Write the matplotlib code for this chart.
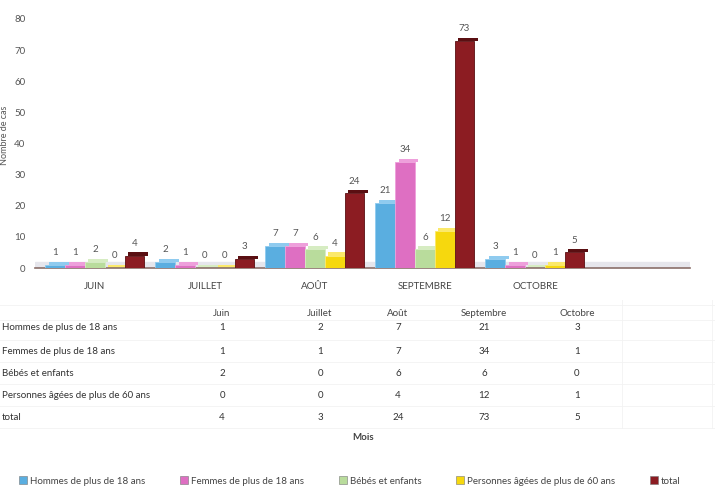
import numpy as np
import matplotlib.pyplot as plt
from matplotlib.patches import Patch

plt.rcParams['font.family'] = ['Lato', 'DejaVu Sans']

months = ["Juin", "Juillet", "Août", "Septembre", "Octobre"]
month_caps = ["JUIN", "JUILLET", "AOÛT", "SEPTEMBRE", "OCTOBRE"]
series = ["Hommes de plus de 18 ans", "Femmes de plus de 18 ans",
          "Bébés et enfants", "Personnes âgées de plus de 60 ans", "total"]
hommes = [1, 2, 7, 21, 3]
femmes = [1, 1, 7, 34, 1]
bebes = [2, 0, 6, 6, 0]
agees = [0, 0, 4, 12, 1]
total = [4, 3, 24, 73, 5]
values = [hommes, femmes, bebes, agees, total]

colors = ["#5aaee0", "#de6fc2", "#b9dc9c", "#f6d80e", "#8c1c22"]
tops = ["#8fcbef", "#ee9fdb", "#d6ecc2", "#fbe96a", "#5a0f12"]

W, H = 715, 495
fig = plt.figure(figsize=(W / 100, H / 100), dpi=100)
fig.patch.set_facecolor("white")


def fx(px):
    return px / W


def fy(py):
    return 1 - py / H


# chart area (pixels 35..690 horizontally, 19..268 vertically)
ax = fig.add_axes([fx(35), fy(268), fx(690 - 35), (268 - 19) / H])
x = np.arange(len(months))
bw = 0.18
for k, (vals, c, tc) in enumerate(zip(values, colors, tops)):
    pos = x + (k - 2) * bw
    ax.bar(pos, vals, width=bw, color=c, edgecolor=tc, linewidth=0.6, zorder=3)
    ax.bar(pos + 0.03, [1.0] * len(vals), bottom=vals, width=bw, color=tc,
           linewidth=0, zorder=2)
    for p, v in zip(pos, vals):
        ax.text(p, v + 2.5, str(v), ha="center", va="bottom", fontsize=7,
                color="#555555")

ax.set_xlim(-0.545, 5.41)
ax.set_ylim(0, 80)
ax.set_yticks(range(0, 81, 10))
ax.tick_params(axis="y", length=0, labelsize=7, labelcolor="#555555", pad=7)
ax.set_xticks(x)
ax.set_xticklabels(month_caps, fontsize=7, color="#444444")
ax.tick_params(axis="x", length=0, pad=10)
for s in ["top", "right", "left"]:
    ax.spines[s].set_visible(False)
ax.spines["bottom"].set_color("#8a6f6a")
ax.spines["bottom"].set_linewidth(1.2)
ax.axhspan(0, 1.8, color="#e6e6ec", zorder=1)
fig.text(fx(5), fy(135), "Nombre de cas", rotation=90, ha="center",
         va="center", fontsize=6.5, color="#555555")

# data table
col_x = [222, 320, 398, 484, 577]
row_y = [328, 351, 373, 395, 417]
for cx, m in zip(col_x, months):
    fig.text(fx(cx), fy(313), m, ha="center", va="center", fontsize=7,
             color="#444444")
for ry, name, vals in zip(row_y, series, values):
    fig.text(fx(2), fy(ry), name, ha="left", va="center", fontsize=7,
             color="#333333")
    for cx, v in zip(col_x, vals):
        fig.text(fx(cx), fy(ry), str(v), ha="center", va="center",
                 fontsize=7, color="#333333")
for ly in [305, 320, 340, 362, 384, 406, 428]:
    fig.add_artist(plt.Line2D([fx(0), fx(715)], [fy(ly), fy(ly)],
                              color="#f2f2f2", linewidth=0.6))
for lx in [622, 712]:
    fig.add_artist(plt.Line2D([fx(lx), fx(lx)], [fy(300), fy(428)],
                              color="#f2f2f2", linewidth=0.6))
fig.text(fx(363), fy(438), "Mois", ha="center", va="center", fontsize=7,
         fontweight="bold", color="#444444")

handles = [Patch(facecolor=c, edgecolor="#777777", linewidth=0.4) for c in colors]
fig.legend(handles, series, loc="center", bbox_to_anchor=(fx(350), fy(481)),
           ncol=5, frameon=False, fontsize=7, handlelength=0.8,
           handleheight=0.8, handletextpad=0.3, columnspacing=3.6,
           labelcolor="#444444")

fig.savefig("out.png", dpi=100)
